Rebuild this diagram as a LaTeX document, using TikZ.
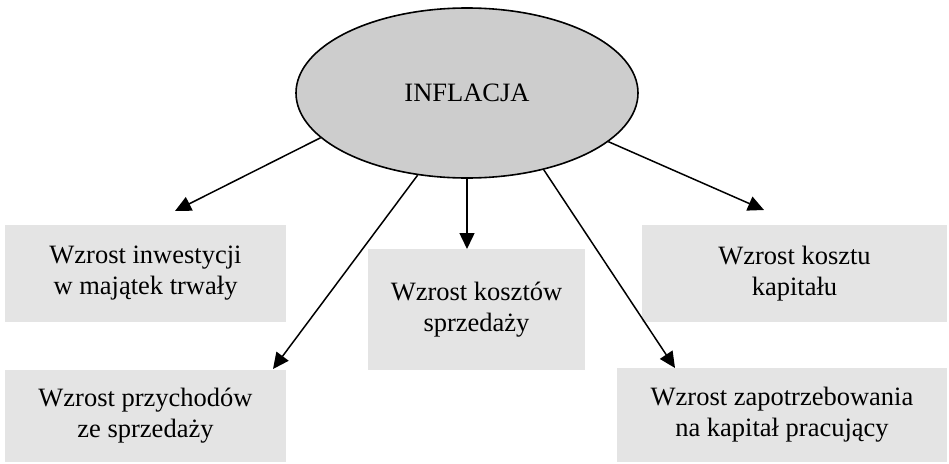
\documentclass[tikz,border=0pt]{standalone}
\usepackage{fontspec}
\setmainfont{Liberation Serif}
\usetikzlibrary{shapes.geometric,arrows.meta}
\definecolor{boxfill}{RGB}{228,228,228}
\definecolor{ellfill}{RGB}{205,205,205}
\tikzset{
  effbox/.style={rectangle, fill=boxfill, draw=none, align=center, inner sep=0pt,
    font=\fontsize{26.5pt}{31pt}\selectfont},
  infl/.style={ellipse, draw=black, line width=1.6pt, fill=ellfill, inner sep=0pt,
    minimum width=342pt, minimum height=170pt, font=\fontsize{26.5pt}{31pt}\selectfont},
  conn/.style={line width=1.5pt, -{Triangle[length=16pt,width=15pt]}}
}
\begin{document}
\begin{tikzpicture}[x=1pt,y=-1pt]
\useasboundingbox (0,0) rectangle (949,463);
\node[infl] (inf) at (467,93) {INFLACJA};
\node[effbox, minimum width=281pt, minimum height=97pt] (b1) at (145.5,273.5) {Wzrost inwestycji\\w majątek trwały};
\node[effbox, minimum width=281pt, minimum height=92pt] (b2) at (145.5,415.5) {Wzrost przychodów\\ze sprzedaży};
\node[effbox, minimum width=217pt, minimum height=121pt] (b3) at (476.5,309.5) {Wzrost kosztów\\sprzedaży};
\node[effbox, minimum width=305pt, minimum height=97pt] (b4) at (794.5,273.5) {Wzrost kosztu\\kapitału};
\node[effbox, minimum width=330pt, minimum height=94pt] (b5) at (782,415) {Wzrost zapotrzebowania\\na kapitał pracujący};
\coordinate (t1) at (175,211);
\coordinate (t2) at (273,369);
\coordinate (t3) at (467,249);
\coordinate (t4) at (675,368);
\coordinate (t5) at (764,210);
\draw[conn] (inf.197) -- (t1);
\draw[conn] (inf.239.5) -- (t2);
\draw[conn] (inf.south) -- (t3);
\draw[conn] (inf.315.8) -- (t4);
\draw[conn] (inf.341.4) -- (t5);
\end{tikzpicture}
\end{document}
